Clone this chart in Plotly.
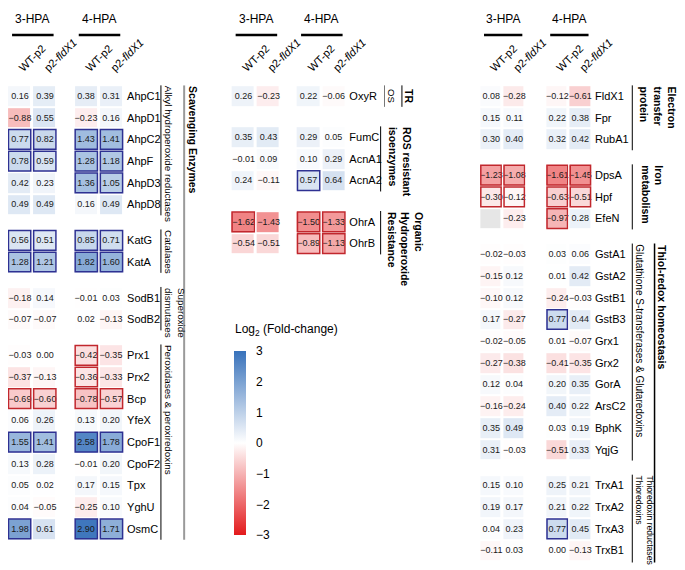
import plotly.graph_objects as go

W, H = 685, 570

# ---------------- data ----------------
conditions = ["3-HPA", "4-HPA"]
strains = ["WT-p2", "p2-<i>fldX1</i>"]

# columns: 3-HPA WT-p2, 3-HPA p2-fldX1, 4-HPA WT-p2, 4-HPA p2-fldX1
scav_genes = ["AhpC1", "AhpD1", "AhpC2", "AhpF", "AhpD3", "AhpD8", "KatG", "KatA",
              "SodB1", "SodB2", "Prx1", "Prx2", "Bcp", "YfeX", "CpoF1", "CpoF2",
              "Tpx", "YghU", "OsmC"]
scav_values = [
    [0.16, 0.39, 0.38, 0.31], [-0.88, 0.55, -0.23, 0.16], [0.77, 0.82, 1.43, 1.41],
    [0.78, 0.59, 1.28, 1.18], [0.42, 0.23, 1.36, 1.05], [0.49, 0.49, 0.16, 0.49],
    [0.56, 0.51, 0.85, 0.71], [1.28, 1.21, 1.82, 1.60],
    [-0.18, 0.14, -0.01, 0.03], [-0.07, -0.07, 0.02, -0.13],
    [-0.03, 0.00, -0.42, -0.35], [-0.37, -0.13, -0.36, -0.33], [-0.69, -0.60, -0.78, -0.57],
    [0.06, 0.26, 0.13, 0.20], [1.55, 1.41, 2.58, 1.78], [0.13, 0.28, -0.01, 0.20],
    [0.05, 0.02, 0.17, 0.15], [0.04, -0.05, -0.25, 0.10], [1.98, 0.61, 2.90, 1.71],
]
scav_boxed = [
    [0, 0, 0, 0], [0, 0, 0, 0], [1, 1, 1, 1], [1, 1, 1, 1], [0, 0, 1, 1], [0, 0, 0, 0],
    [1, 1, 1, 1], [1, 1, 1, 1], [0, 0, 0, 0], [0, 0, 0, 0],
    [0, 0, 1, 0], [0, 0, 1, 0], [1, 1, 1, 1], [0, 0, 0, 0], [1, 1, 1, 1], [0, 0, 0, 0],
    [0, 0, 0, 0], [0, 0, 0, 0], [1, 0, 1, 1],
]
scav_groups = ["Alkyl hydroperoxide reductases", "Catalases", "Superoxide<br>dismutases",
               "Peroxidases & peroxiredoxins"]
scav_group_sizes = [6, 2, 2, 9]

reg_genes = ["OxyR", "FumC", "AcnA1", "AcnA2", "OhrA", "OhrB"]
reg_values = [
    [0.26, -0.23, 0.22, -0.06],
    [0.35, 0.43, 0.29, 0.05], [-0.01, 0.09, 0.10, 0.29], [0.24, -0.11, 0.57, 0.64],
    [-1.62, -1.43, -1.50, -1.33], [-0.54, -0.51, -0.89, -1.13],
]
reg_boxed = [
    [0, 0, 0, 0],
    [0, 0, 0, 0], [0, 0, 0, 0], [0, 0, 1, 0],
    [1, 0, 1, 1], [0, 0, 1, 1],
]
reg_groups = ["TR", "ROS resistant<br>isoenzymes", "Organic<br>Hydroperoxide<br>Resistance"]
reg_group_sizes = [1, 3, 2]

thiol_genes = ["FldX1", "Fpr", "RubA1", "DpsA", "Hpf", "EfeN", "GstA1", "GstA2", "GstB1",
               "GstB3", "Grx1", "Grx2", "GorA", "ArsC2", "BphK", "YqjG", "TrxA1", "TrxA2",
               "TrxA3", "TrxB1"]
thiol_values = [
    [0.08, -0.28, -0.12, -0.61], [0.15, 0.11, 0.22, 0.38], [0.30, 0.40, 0.32, 0.42],
    [-1.23, -1.08, -1.61, -1.45], [-0.30, -0.12, -0.63, -0.51], [None, -0.23, -0.97, 0.28],
    [-0.02, -0.03, 0.03, 0.06], [-0.15, 0.12, 0.01, 0.42], [-0.10, 0.12, -0.24, -0.03],
    [0.17, -0.27, 0.77, 0.44], [-0.02, -0.05, 0.01, -0.07], [-0.27, -0.38, -0.41, -0.35],
    [0.12, 0.04, 0.20, 0.35], [-0.16, -0.24, 0.40, 0.22], [0.35, 0.49, 0.03, 0.19],
    [0.31, -0.03, -0.51, 0.33],
    [0.15, 0.10, 0.25, 0.21], [0.19, 0.17, 0.21, 0.22], [0.04, 0.23, 0.77, 0.45],
    [-0.11, 0.03, 0.00, -0.13],
]
thiol_boxed = [
    [0, 0, 0, 0], [0, 0, 0, 0], [0, 0, 0, 0],
    [1, 1, 1, 1], [1, 1, 1, 1], [0, 0, 1, 0],
    [0, 0, 0, 0], [0, 0, 0, 0], [0, 0, 0, 0], [0, 0, 1, 0], [0, 0, 0, 0],
    [0, 0, 0, 0], [0, 0, 0, 0], [0, 0, 0, 0], [0, 0, 0, 0], [0, 0, 0, 0],
    [0, 0, 0, 0], [0, 0, 0, 0], [0, 0, 1, 0], [0, 0, 0, 0],
]
thiol_groups = ["Electron<br>transfer<br>protein", "Iron<br>metabolism",
                "Glutathione S-transferases & Glutaredoxins",
                "Thioredoxin reductases<br>Thioredoxins"]
thiol_group_sizes = [3, 3, 10, 4]

cbar_ticks = [3, 2, 1, 0, -1, -2, -3]

# ---------------- layout helpers ----------------
ROW0, ROWPITCH = 88, 21.7
Y_LO, Y_HI = -0.5, 21.5
FONT = "Arial, 'Liberation Sans', sans-serif"
BLUE_BOX, RED_BOX = "#2e3192", "#c1272d"
colorscale = [[0, "#e31a1c"], [0.5, "#ffffff"], [1, "#3872bb"]]


def fmt(v):
    return f"{v:.2f}".replace("-", "\u2212")


def positions(sizes, gap):
    pos, edges, index = [], [-0.5], []
    r = 0.0
    for k, n in enumerate(sizes):
        if k:
            edges.append(edges[-1] + gap)
            index.append(None)
            r += gap
        for _ in range(n):
            pos.append(r)
            edges.append(r + 0.5)
            index.append(len(pos) - 1)
            r += 1
    return pos, edges, index


def ypx(frac_px):
    return 1 - frac_px / H


panels = [
    dict(genes=scav_genes, values=scav_values, boxed=scav_boxed, sizes=scav_group_sizes,
         gap=0.65, c0=12, pitch=26, cgap=0.65),
    dict(genes=reg_genes, values=reg_values, boxed=reg_boxed, sizes=reg_group_sizes,
         gap=0.9, c0=243, pitch=26, cgap=0.6),
    dict(genes=thiol_genes, values=thiol_values, boxed=thiol_boxed, sizes=thiol_group_sizes,
         gap=0.65, c0=499, pitch=24, cgap=0.85),
]

fig = go.Figure()
shapes, annotations = [], []
layout = {}
y_dom = [ypx(ROW0 + Y_HI * ROWPITCH), ypx(ROW0 + Y_LO * ROWPITCH)]

for k, p in enumerate(panels):
    sfx = "" if k == 0 else str(k + 1)
    xa, ya = "x" + sfx, "y" + sfx
    rpos, redges, ridx = positions(p["sizes"], p["gap"])
    cpos, cedges, cidx = positions([2, 2], p["cgap"])
    p["rpos"], p["cpos"], p["ya"], p["xa"] = rpos, cpos, ya, xa

    z, txt, zna = [], [], []
    for ri in ridx:
        zr, tr, nr = [], [], []
        for ci in cidx:
            v = None if ri is None or ci is None else p["values"][ri][ci]
            zr.append(v)
            tr.append("" if v is None else fmt(v))
            nr.append(1 if (ri is not None and ci is not None and v is None) else None)
        z.append(zr); txt.append(tr); zna.append(nr)

    fig.add_trace(go.Heatmap(x=cedges, y=redges, z=z, text=txt, texttemplate="%{text}",
                             textfont=dict(size=9, color="#1a1a1a", family=FONT),
                             coloraxis="coloraxis", xgap=3, ygap=2, hoverinfo="skip",
                             xaxis=xa, yaxis=ya))
    fig.add_trace(go.Heatmap(x=cedges, y=redges, z=zna, showscale=False, zmin=0, zmax=1,
                             colorscale=[[0, "#e6e6e6"], [1, "#e6e6e6"]], xgap=3, ygap=2,
                             hoverinfo="skip", xaxis=xa, yaxis=ya))

    # significance boxes
    hx, hy = 1.5 / p["pitch"], 1.0 / ROWPITCH
    for i, row in enumerate(p["boxed"]):
        for j, b in enumerate(row):
            if b:
                col = BLUE_BOX if p["values"][i][j] > 0 else RED_BOX
                shapes.append(dict(type="rect", xref=xa, yref=ya,
                                   x0=cpos[j] - 0.5 + hx, x1=cpos[j] + 0.5 - hx,
                                   y0=rpos[i] - 0.5 + hy, y1=rpos[i] + 0.5 - hy,
                                   line=dict(color=col, width=1.5)))

    a = p["c0"] - p["pitch"] * 0.5
    b = p["c0"] + (cpos[-1] + 0.5) * p["pitch"]
    layout["xaxis" + sfx] = dict(domain=[max(a, 0) / W, b / W],
                                 range=[(max(a, 0) - p["c0"]) / p["pitch"], cpos[-1] + 0.5],
                                 anchor=ya, side="top", tickmode="array", tickvals=cpos,
                                 ticktext=strains * 2, tickangle=-45, showgrid=False,
                                 zeroline=False, showline=False, ticks="",
                                 tickfont=dict(size=11, color="black"), ticklabelstandoff=8,
                                 fixedrange=True)
    layout["yaxis" + sfx] = dict(domain=y_dom, range=[Y_HI, Y_LO], anchor=xa, side="right",
                                 tickmode="array", tickvals=rpos, ticktext=p["genes"],
                                 showgrid=False, zeroline=False, showline=False, ticks="",
                                 tickfont=dict(size=11, color="black"), ticklabelstandoff=2,
                                 fixedrange=True)

    # condition headers
    for c, name in enumerate(conditions):
        start = cpos[2 * c]
        annotations.append(dict(text=name, xref=xa, yref="paper", x=start + 0.5, y=ypx(11),
                                yanchor="middle", showarrow=False,
                                font=dict(size=12, color="black")))
        shapes.append(dict(type="line", xref=xa, yref="paper", x0=start - 0.3, x1=start + 1.35,
                           y0=ypx(27), y1=ypx(27), line=dict(color="black", width=2.5)))


def group_rows(p, g):
    s = sum(p["sizes"][:g])
    return p["rpos"][s], p["rpos"][s + p["sizes"][g] - 1]


def bracket(p, r0, r1, x, color="black", width=1, extra=0.0):
    shapes.append(dict(type="line", xref="paper", yref=p["ya"], x0=x / W, x1=x / W,
                       y0=r0 - 0.5, y1=r1 + 0.5 + extra, line=dict(color=color, width=width)))


def side_label(p, text, x, r, bold=False, size=10, yanchor="top"):
    annotations.append(dict(text=f"<b>{text}</b>" if bold else text, textangle=90,
                            xref="paper", yref=p["ya"], x=x / W,
                            y=r - 0.5 if yanchor == "top" else r,
                            xanchor="left", yanchor=yanchor, showarrow=False, align="left",
                            font=dict(size=size, color="black"), borderpad=0))


# left panel brackets
p = panels[0]
for g, name in enumerate(scav_groups):
    r0, r1 = group_rows(p, g)
    bracket(p, r0, r1, 158)
    side_label(p, name, 159, r0, size=9.8)
bracket(p, p["rpos"][0], p["rpos"][-1], 182, color="#9a9a9a", width=2)
side_label(p, "Scavenging Enzymes", 184, p["rpos"][0], bold=True, size=10.5)

# middle panel brackets
p = panels[1]
r0, r1 = group_rows(p, 0)
bracket(p, r0, r1, 389, color="#777")
side_label(p, "OS", 389, r0, size=9.5, yanchor="middle")
bracket(p, r0, r1, 407)
side_label(p, reg_groups[0], 407, r0, bold=True, size=10.5, yanchor="middle")
for g in (1, 2):
    r0, r1 = group_rows(p, g)
    bracket(p, r0, r1, 385)
    side_label(p, reg_groups[g], 390, r0, bold=True, size=10.5)

# right panel brackets
p = panels[2]
for g in (0, 1):
    r0, r1 = group_rows(p, g)
    bracket(p, r0, r1, 645)
    side_label(p, thiol_groups[g], 651, r0, bold=True, size=10.5)
r0, r1 = group_rows(p, 2)
bracket(p, r0, r1, 645)
side_label(p, thiol_groups[2], 646, r0)
r0, r1 = group_rows(p, 3)
bracket(p, r0, r1, 645, extra=0.6)
side_label(p, thiol_groups[3], 646, r0, size=8.6)
r0, _ = group_rows(p, 2)
_, r1 = group_rows(p, 3)
bracket(p, r0, r1, 668, width=1.5, extra=0.6)
side_label(p, "Thiol-redox homeostasis", 669, r0, bold=True, size=10.5)

# colorbar title
annotations.append(dict(text="Log<sub>2</sub> (Fold-change)", xref="paper", yref="paper",
                        x=232 / W, y=ypx(322), xanchor="left", yanchor="middle",
                        showarrow=False, font=dict(size=12, color="black")))

fig.update_layout(
    width=W, height=H, margin=dict(l=0, r=0, t=0, b=0),
    paper_bgcolor="white", plot_bgcolor="white",
    font=dict(family=FONT, color="black"),
    coloraxis=dict(colorscale=colorscale, cmin=-3, cmax=3,
                   colorbar=dict(x=234 / W, xanchor="left", xpad=0, y=ypx(343), yanchor="top",
                                 ypad=0, len=184, lenmode="pixels", thickness=12,
                                 outlinewidth=0, tickmode="array", tickvals=cbar_ticks,
                                 ticktext=[fmt(t).replace(".00", "") for t in cbar_ticks],
                                 ticks="outside", ticklen=8, tickcolor="rgba(0,0,0,0)",
                                 tickfont=dict(size=12, color="black"))),
    shapes=shapes, annotations=annotations, showlegend=False,
    **layout,
)

fig.write_html("out.html")
